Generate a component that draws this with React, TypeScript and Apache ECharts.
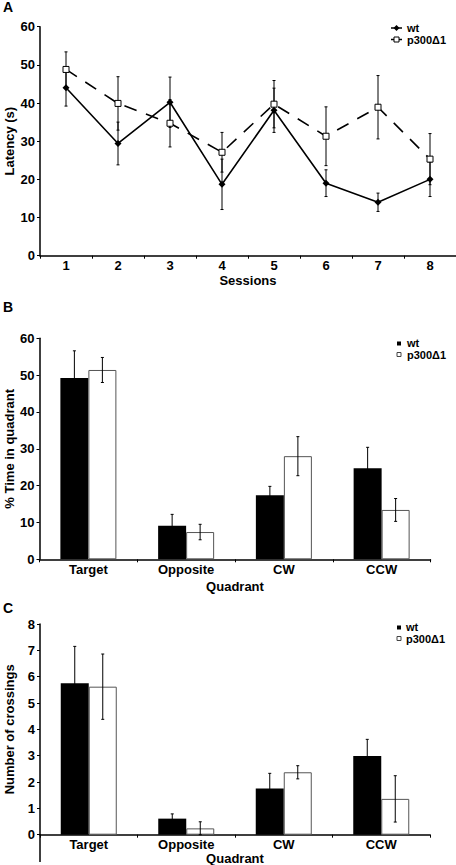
import React, { useEffect, useRef } from "react";
import * as echarts from "echarts";

const sessions = ["1", "2", "3", "4", "5", "6", "7", "8"];
const latencyWt = [44, 29.4, 40.2, 18.7, 38.1, 19, 14, 20];
const latencyWtErr = [4.8, 5.6, 6.6, 6.6, 5.8, 3.5, 2.4, 4.5];
const latencyMut = [48.8, 39.9, 34.7, 27.1, 39.7, 31.3, 38.9, 25.3];
const latencyMutErr = [4.6, 7, 6.2, 5.2, 6.2, 7.7, 8.3, 6.7];

const quadrants = ["Target", "Opposite", "CW", "CCW"];
const timeWt = [49.2, 9.1, 17.4, 24.7];
const timeWtErr = [7.4, 3.1, 2.4, 5.7];
const timeMut = [51.4, 7.4, 28, 13.4];
const timeMutErr = [3.4, 2.1, 5.3, 3.1];

const crossWt = [5.75, 0.61, 1.75, 2.99];
const crossWtErr = [1.4, 0.18, 0.58, 0.63];
const crossMut = [5.62, 0.24, 2.37, 1.36];
const crossMutErr = [1.24, 0.25, 0.25, 0.88];

const seriesNames = ["wt", "p300\u03941"];

const FONT = "'Liberation Sans', Arial, Helvetica, sans-serif";
const BAR_W = 28;

const errData = (vals: number[], errs: number[]) => vals.map((v, i) => [i, v, errs[i]]);

const errRender = (offset: number) => (params: any, api: any) => {
  const x = api.value(0);
  const v = api.value(1);
  const e = api.value(2);
  const top = api.coord([x, v + e]);
  const bot = api.coord([x, Math.max(0, v - e)]);
  const px = top[0] + offset;
  const st = { stroke: "#000", lineWidth: 1 };
  return {
    type: "group",
    children: [
      { type: "line", shape: { x1: px, y1: top[1], x2: px, y2: bot[1] }, style: st },
      { type: "line", shape: { x1: px - 1.5, y1: top[1], x2: px + 1.5, y2: top[1] }, style: st },
      { type: "line", shape: { x1: px - 1.5, y1: bot[1], x2: px + 1.5, y2: bot[1] }, style: st },
    ],
  };
};

const axisLabel = { color: "#000", fontFamily: FONT, fontWeight: "bold" as const, fontSize: 13 };
const axisLine = { show: true, lineStyle: { color: "#000", width: 1.5 } };

function xAxis(gridIndex: number, data: string[], nameGap: number, labelMargin: number) {
  return {
    type: "category",
    gridIndex,
    data,
    boundaryGap: true,
    axisLine,
    axisTick: { show: true, length: 3, lineStyle: { color: "#000", width: 1 } },
    axisLabel: { ...axisLabel, margin: labelMargin },
    name: "Quadrant",
    nameLocation: "middle",
    nameGap,
    nameMoveOverlap: false,
    nameTextStyle: { ...axisLabel },
  };
}

function yAxis(gridIndex: number, max: number, interval: number, name: string, nameGap: number) {
  return {
    type: "value",
    gridIndex,
    min: 0,
    max,
    interval,
    splitLine: { show: false },
    axisLine,
    axisTick: { show: true, length: 3, lineStyle: { color: "#000", width: 1 } },
    axisLabel: { ...axisLabel, margin: 5 },
    name,
    nameLocation: "middle",
    nameRotate: 90,
    nameGap,
    nameMoveOverlap: false,
    nameTextStyle: { ...axisLabel },
  };
}

function legendText(x: number, y: number, text: string) {
  return {
    type: "text",
    x,
    y,
    style: { text, fill: "#000", font: `bold 11px ${FONT}`, textVerticalAlign: "middle" },
  };
}

function panelLabel(x: number, y: number, text: string) {
  return {
    type: "text",
    x,
    y,
    style: { text, fill: "#000", font: `bold 14px ${FONT}`, textVerticalAlign: "middle" },
  };
}

export default function App() {
  const ref = useRef<HTMLDivElement>(null);
  useEffect(() => {
    if (!ref.current) return;
    const chart = echarts.init(ref.current, undefined, { renderer: "svg" });
    const xA = xAxis(0, sessions, 18, 3);
    (xA as any).name = "Sessions";
    const option: any = {
      animation: false,
      backgroundColor: "#fff",
      grid: [
        { left: 40, top: 26.7, width: 416, height: 229, outerBoundsMode: "none", containLabel: false },
        { left: 39.5, top: 338.3, width: 391, height: 221, outerBoundsMode: "none", containLabel: false },
        { left: 40, top: 624, width: 390, height: 210.7, outerBoundsMode: "none", containLabel: false },
      ],
      xAxis: [xA, xAxis(1, quadrants, 21, 4), xAxis(2, quadrants, 17, 3)],
      yAxis: [
        yAxis(0, 60, 10, "Latency (s)", 24),
        yAxis(1, 60, 10, "% Time in quadrant", 24),
        yAxis(2, 8, 1, "Number of crossings", 24),
      ],
      series: [
        // Panel A error bars
        {
          type: "custom",
          xAxisIndex: 0,
          yAxisIndex: 0,
          data: errData(latencyWt, latencyWtErr),
          renderItem: errRender(0),
          encode: { x: 0, y: 1 },
          z: 1,
        },
        {
          type: "custom",
          xAxisIndex: 0,
          yAxisIndex: 0,
          data: errData(latencyMut, latencyMutErr),
          renderItem: errRender(0),
          encode: { x: 0, y: 1 },
          z: 1,
        },
        {
          name: seriesNames[0],
          type: "line",
          xAxisIndex: 0,
          yAxisIndex: 0,
          data: latencyWt,
          symbol: "diamond",
          symbolSize: 7,
          itemStyle: { color: "#000" },
          lineStyle: { color: "#000", width: 1.6 },
          z: 3,
        },
        {
          name: seriesNames[1],
          type: "line",
          xAxisIndex: 0,
          yAxisIndex: 0,
          data: latencyMut,
          symbol: "rect",
          symbolSize: 6,
          showAllSymbol: true,
          itemStyle: { color: "#fff", borderColor: "#000", borderWidth: 1 },
          lineStyle: { color: "#000", width: 1.6, type: [13, 10] },
          z: 4,
        },
        // Panel B bars
        {
          name: seriesNames[0],
          type: "bar",
          xAxisIndex: 1,
          yAxisIndex: 1,
          data: timeWt,
          barWidth: BAR_W,
          barGap: "0%",
          itemStyle: { color: "#000" },
          z: 2,
        },
        {
          name: seriesNames[1],
          type: "bar",
          xAxisIndex: 1,
          yAxisIndex: 1,
          data: timeMut,
          barWidth: BAR_W,
          barGap: "0%",
          itemStyle: { color: "#fff", borderColor: "#555", borderWidth: 1 },
          z: 2,
        },
        {
          type: "custom",
          xAxisIndex: 1,
          yAxisIndex: 1,
          data: errData(timeWt, timeWtErr),
          renderItem: errRender(-BAR_W / 2),
          encode: { x: 0, y: 1 },
          z: 3,
        },
        {
          type: "custom",
          xAxisIndex: 1,
          yAxisIndex: 1,
          data: errData(timeMut, timeMutErr),
          renderItem: errRender(BAR_W / 2),
          encode: { x: 0, y: 1 },
          z: 3,
        },
        // Panel C bars
        {
          name: seriesNames[0],
          type: "bar",
          xAxisIndex: 2,
          yAxisIndex: 2,
          data: crossWt,
          barWidth: BAR_W,
          barGap: "0%",
          itemStyle: { color: "#000" },
          z: 2,
        },
        {
          name: seriesNames[1],
          type: "bar",
          xAxisIndex: 2,
          yAxisIndex: 2,
          data: crossMut,
          barWidth: BAR_W,
          barGap: "0%",
          itemStyle: { color: "#fff", borderColor: "#555", borderWidth: 1 },
          z: 2,
        },
        {
          type: "custom",
          xAxisIndex: 2,
          yAxisIndex: 2,
          data: errData(crossWt, crossWtErr),
          renderItem: errRender(-BAR_W / 2),
          encode: { x: 0, y: 1 },
          z: 3,
        },
        {
          type: "custom",
          xAxisIndex: 2,
          yAxisIndex: 2,
          data: errData(crossMut, crossMutErr),
          renderItem: errRender(BAR_W / 2),
          encode: { x: 0, y: 1 },
          z: 3,
        },
      ],
      graphic: [
        panelLabel(3, 7, "A"),
        panelLabel(3, 306.7, "B"),
        panelLabel(3, 607.7, "C"),
        // Legend A
        { type: "line", shape: { x1: 391, y1: 28, x2: 402, y2: 28 }, style: { stroke: "#000", lineWidth: 1.5 } },
        { type: "polygon", shape: { points: [[396.5, 25], [399.5, 28], [396.5, 31], [393.5, 28]] }, style: { fill: "#000" } },
        legendText(407, 28, seriesNames[0]),
        { type: "line", shape: { x1: 391, y1: 39.5, x2: 402, y2: 39.5 }, style: { stroke: "#000", lineWidth: 1.5 } },
        { type: "rect", shape: { x: 394, y: 37, width: 5, height: 5 }, style: { fill: "#fff", stroke: "#000", lineWidth: 1 } },
        legendText(407, 39.5, seriesNames[1]),
        // Legend B
        { type: "rect", shape: { x: 397, y: 341.5, width: 4, height: 4 }, style: { fill: "#000" } },
        legendText(407, 343, seriesNames[0]),
        { type: "rect", shape: { x: 397, y: 352.5, width: 4, height: 4 }, style: { fill: "#fff", stroke: "#444", lineWidth: 1 } },
        legendText(407, 354.5, seriesNames[1]),
        // Legend C
        { type: "rect", shape: { x: 397, y: 625.5, width: 4, height: 4 }, style: { fill: "#000" } },
        legendText(406, 627, seriesNames[0]),
        { type: "rect", shape: { x: 397, y: 636.5, width: 4, height: 4 }, style: { fill: "#fff", stroke: "#444", lineWidth: 1 } },
        legendText(406, 638.5, seriesNames[1]),
        // Panel C y-axis extension below the x axis
        { type: "line", shape: { x1: 40, y1: 834.7, x2: 40, y2: 862 }, style: { stroke: "#000", lineWidth: 1.5 } },
      ],
    };
    chart.setOption(option);
    return () => chart.dispose();
  }, []);
  return (
    <div
      ref={ref}
      style={{ position: "absolute", left: 0, top: 0, width: 456, height: 865, background: "#fff" }}
    />
  );
}
